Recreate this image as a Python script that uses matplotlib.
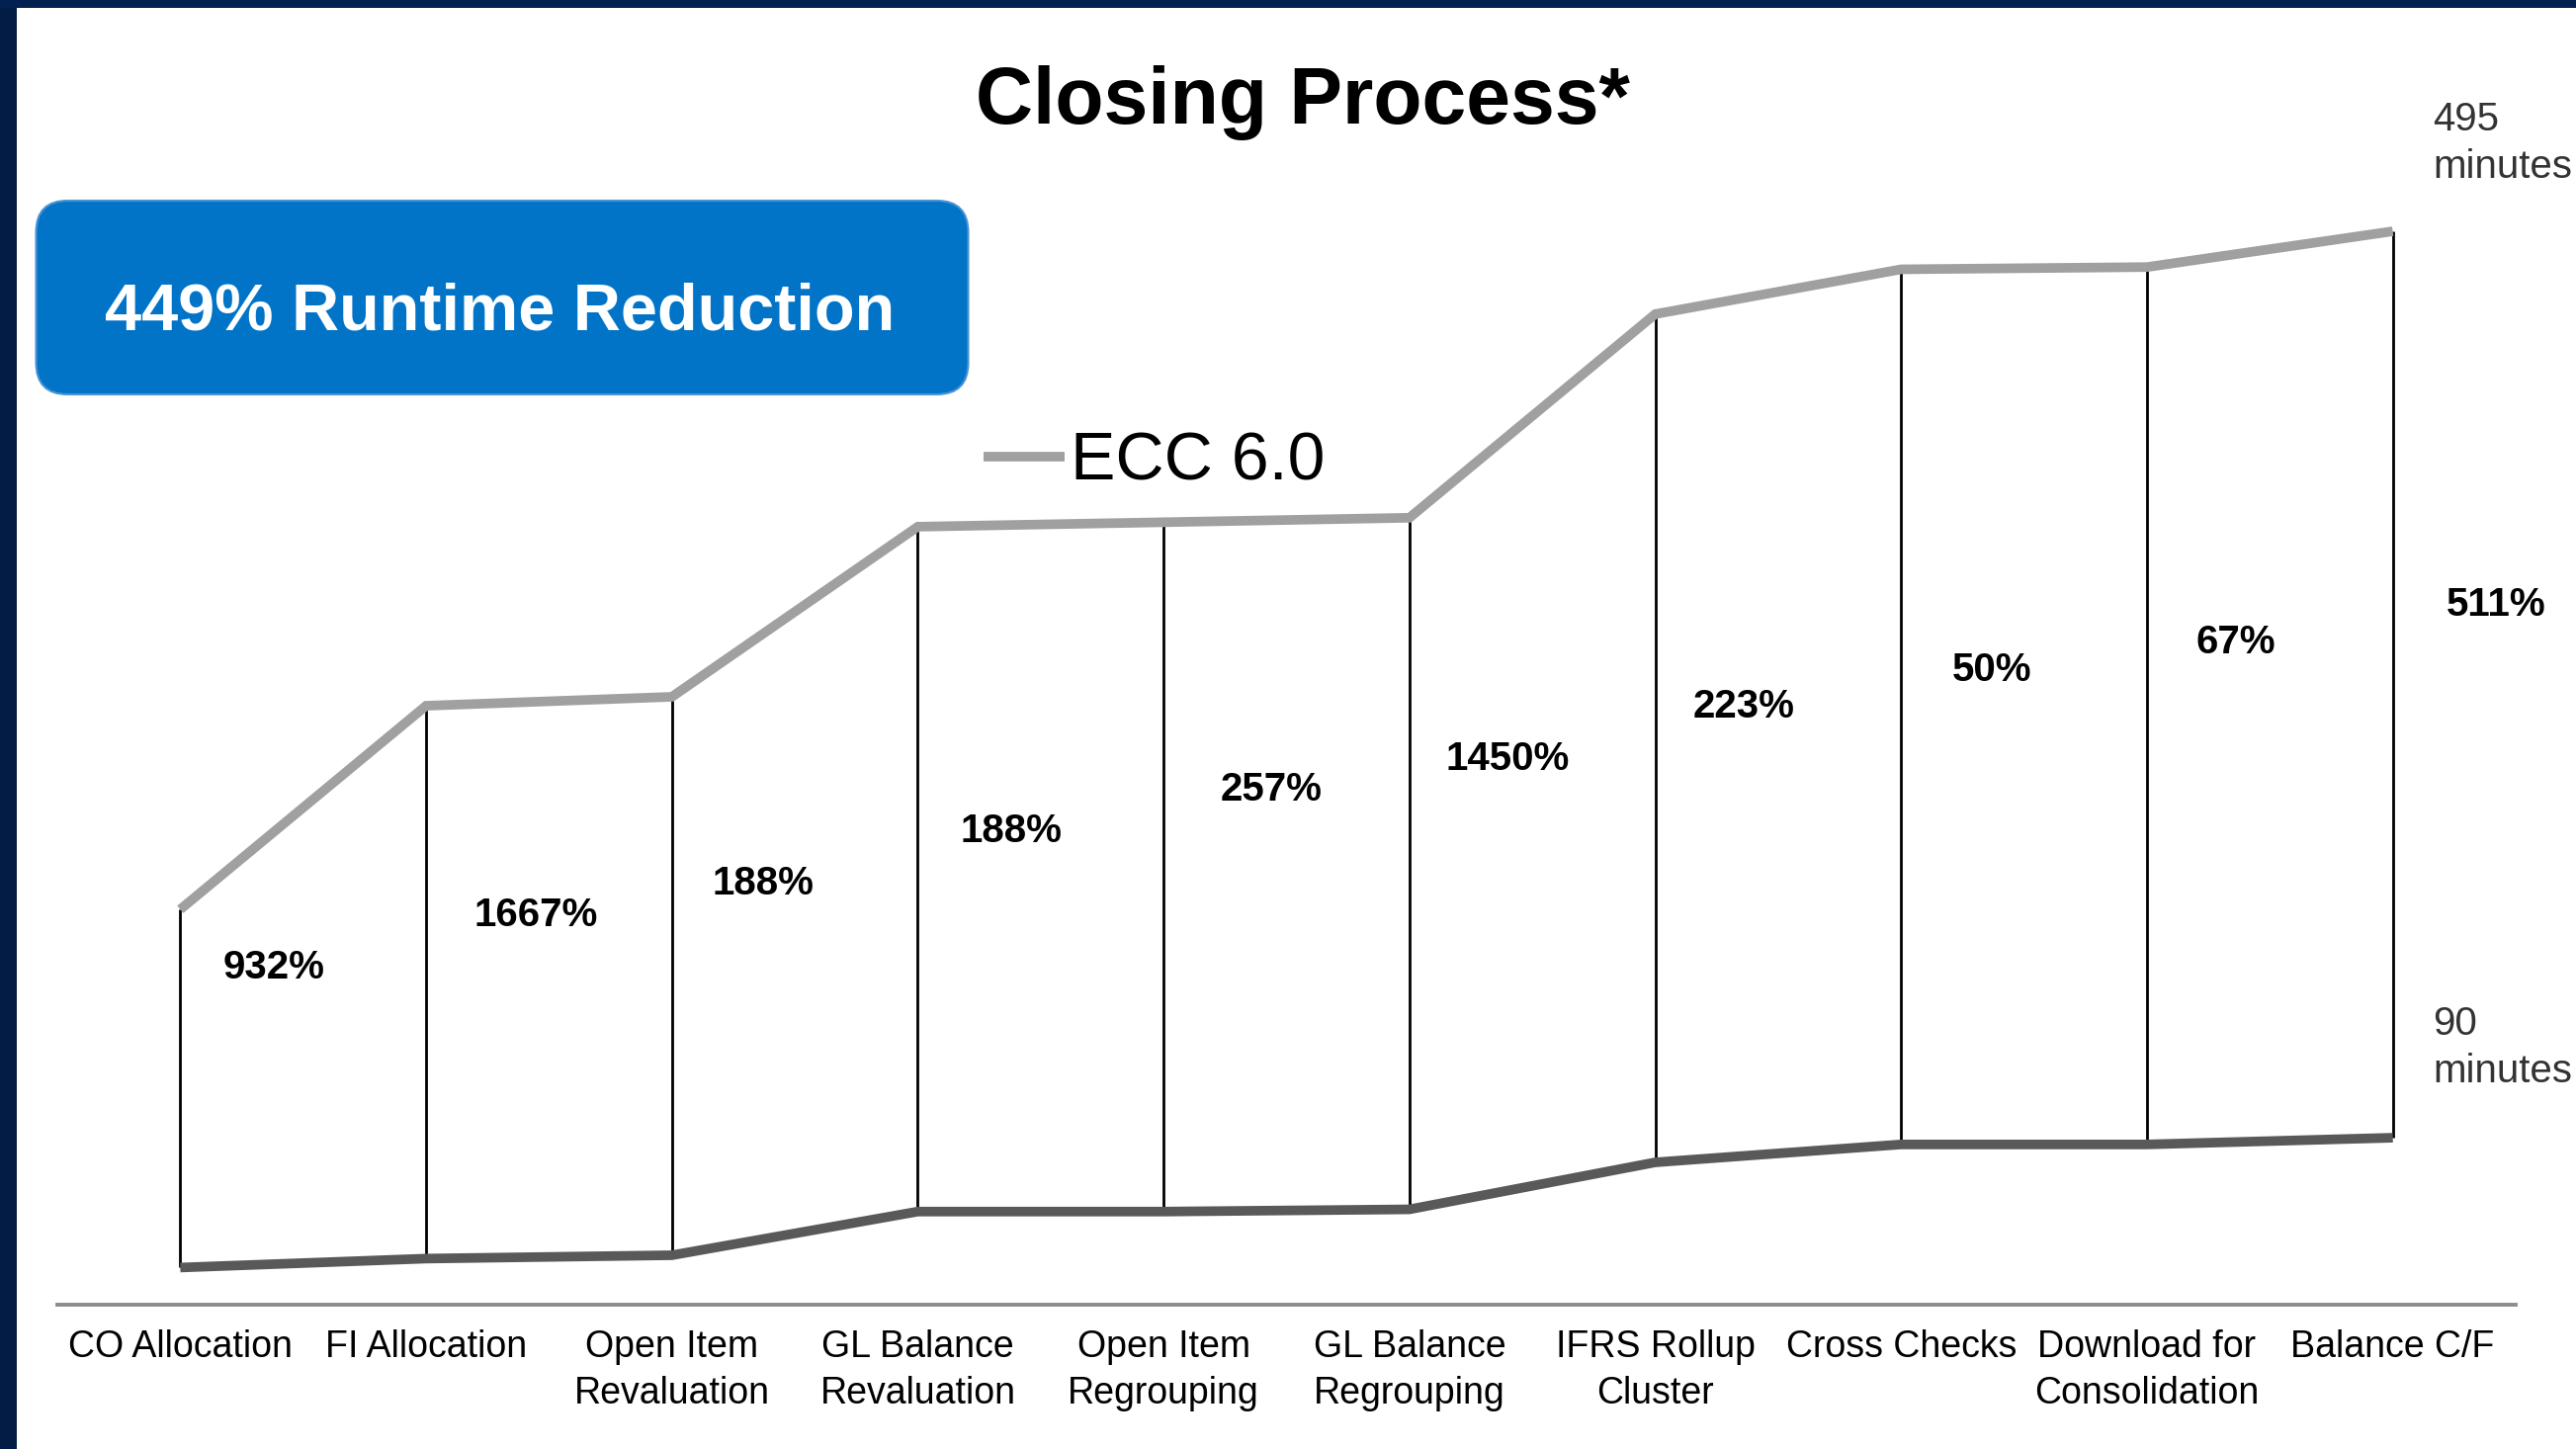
import matplotlib
matplotlib.use("Agg")
import matplotlib.pyplot as plt
from matplotlib.patches import FancyBboxPatch, Rectangle
from matplotlib.lines import Line2D
import numpy as np

plt.rcParams['font.family'] = ['Liberation Sans', 'DejaVu Sans']

# ---------------- data ----------------
categories = ["CO Allocation", "FI Allocation", "Open Item\nRevaluation",
              "GL Balance\nRevaluation", "Open Item\nRegrouping",
              "GL Balance\nRegrouping", "IFRS Rollup\nCluster", "Cross Checks",
              "Download for\nConsolidation", "Balance C/F"]
# cumulative runtime (minutes), old system (ECC 6.0) and new system
ecc_cumulative = [192, 283, 287, 363, 365, 367, 458, 478, 479, 495]
new_cumulative = [32, 36, 37.5, 57, 57, 58, 79, 87, 87, 90]
step_labels = ["932%", "1667%", "188%", "188%", "257%", "1450%",
               "223%", "50%", "67%", "511%"]
series_name = "ECC 6.0"
headline = "449% Runtime Reduction"
title = "Closing Process*"
ecc_total_label = "495\nminutes"
new_total_label = "90\nminutes"

# ---------------- layout (positions only) ----------------
label_x = [0.38, 1.445, 2.37, 3.38, 4.44, 5.40, 6.36, 7.37, 8.36, 9.42]
label_y = [166, 189.5, 203.4, 226.9, 245.3, 259.2, 282.7, 298.9, 311.4, 328.2]

W, H = 2606, 1466
fig = plt.figure(figsize=(W / 100, H / 100), dpi=100, facecolor="white")

ax = fig.add_axes([58 / W, 1 - 1320 / H, (2545 - 58) / W, (1320 - 20) / H])
ax.set_facecolor("none")
x = np.arange(len(categories))

ax.vlines(x, new_cumulative, ecc_cumulative, colors="black", linewidth=2.0, zorder=2)
ax.plot(x, ecc_cumulative, color="#A0A0A0", linewidth=7, solid_joinstyle="miter",
        solid_capstyle="butt", zorder=3)
ax.plot(x, new_cumulative, color="#595959", linewidth=7, solid_joinstyle="miter",
        solid_capstyle="butt", zorder=3)

for lx, ly, t in zip(label_x, label_y, step_labels):
    ax.text(lx, ly, t, ha="center", va="center", fontsize=29, fontweight="bold",
            color="black")

ax.set_xlim(-0.5, len(categories) - 0.5)
ax.set_ylim(15.4, 589.5)
for s in ["left", "right", "top"]:
    ax.spines[s].set_visible(False)
ax.spines["bottom"].set_color("#8C8C8C")
ax.spines["bottom"].set_linewidth(2.8)
ax.set_yticks([])
ax.set_xticks(x)
ax.set_xticklabels(categories, fontsize=27, linespacing=1.38, color="black")
ax.tick_params(axis="x", length=0, pad=18)

# title
fig.text(1318 / W, 1 - 125 / H, title, ha="center", va="baseline",
         fontsize=58, fontweight="bold", color="black")

# headline box
box = FancyBboxPatch((0.365, (H - 399) / 100), 9.43, 1.96,
                     boxstyle="round,pad=0,rounding_size=0.32",
                     transform=fig.dpi_scale_trans, facecolor="#0274C8",
                     edgecolor="#4A93D6", linewidth=1.5, zorder=5)
fig.patches.append(box)
fig.text(506 / W, 1 - 333 / H, headline, ha="center", va="baseline",
         fontsize=48, fontweight="bold", color="white", zorder=6)

# legend
fig.add_artist(Line2D([995 / W, 1077 / W], [1 - 462 / H, 1 - 462 / H],
                      color="#A0A0A0", linewidth=7, solid_capstyle="butt"))
fig.text(1083 / W, 1 - 485 / H, series_name, ha="left", va="baseline",
         fontsize=49, color="black")

# totals
fig.text(2461 / W, 1 - 145 / H, ecc_total_label, ha="left", va="center",
         fontsize=29, color="#333333", linespacing=1.36)
fig.text(2461 / W, 1 - 1060 / H, new_total_label, ha="left", va="center",
         fontsize=29, color="#333333", linespacing=1.36)

# navy frame
fig.patches.append(Rectangle((0, 0), 17 / W, 1, transform=fig.transFigure,
                             facecolor="#021C45", edgecolor="none", zorder=10))
fig.patches.append(Rectangle((0, 1 - 8 / H), 1, 8 / H, transform=fig.transFigure,
                             facecolor="#022152", edgecolor="none", zorder=10))

fig.savefig("out.png", dpi=100, facecolor="white")
